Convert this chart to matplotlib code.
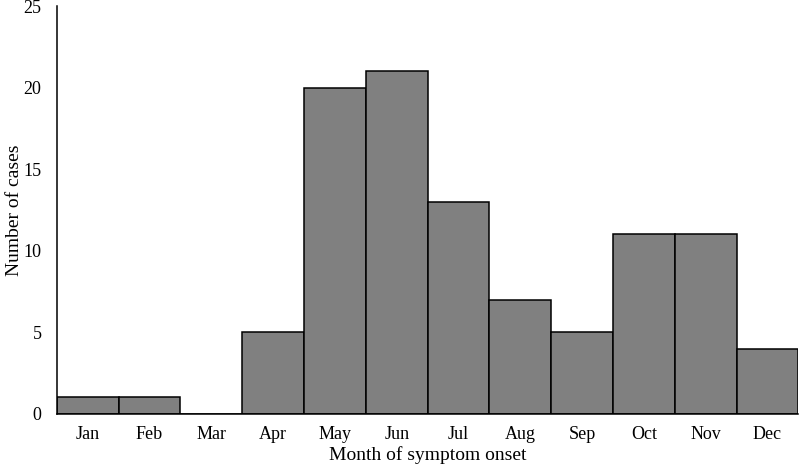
import matplotlib
matplotlib.use("Agg")
import matplotlib.pyplot as plt
import numpy as np

months = ["Jan", "Feb", "Mar", "Apr", "May", "Jun", "Jul", "Aug", "Sep", "Oct", "Nov", "Dec"]
cases = [1, 1, 0, 5, 20, 21, 13, 7, 5, 11, 11, 4]

plt.rcParams["font.family"] = ["Liberation Serif", "DejaVu Serif"]

fig = plt.figure(figsize=(8, 4.74), dpi=100)
ax = fig.add_axes([0.071, 0.127, 0.927, 0.86])

x = np.arange(len(months))
ax.bar(x, cases, width=1.0, color="#808080", edgecolor="black", linewidth=1.1)

ax.set_xlim(-0.5, len(months) - 0.5)
ax.set_ylim(0, 25)
ax.set_yticks([0, 5, 10, 15, 20, 25])
ax.set_xticks(x)
ax.set_xticklabels(months)
ax.tick_params(axis="both", length=0, labelsize=13)
ax.tick_params(axis="x", pad=9)
ax.tick_params(axis="y", pad=11)

for s in ["top", "right"]:
    ax.spines[s].set_visible(False)
for s in ["left", "bottom"]:
    ax.spines[s].set_linewidth(1.1)

ax.set_xlabel("Month of symptom onset", fontsize=14, labelpad=2)
ax.set_ylabel("Number of cases", fontsize=14)
ax.yaxis.set_label_coords(-0.045, 0.5)

fig.savefig("out.png", dpi=100)
